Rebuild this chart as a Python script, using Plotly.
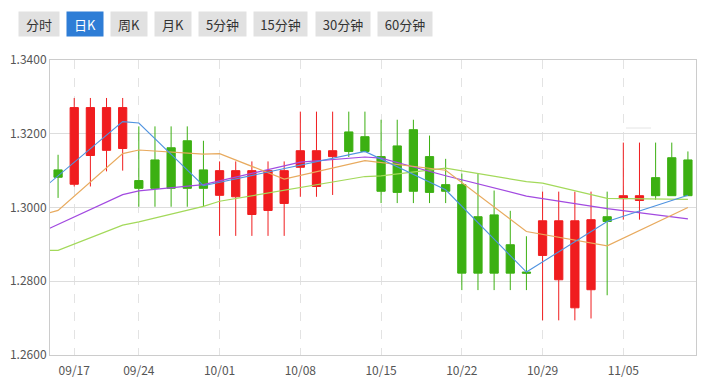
import plotly.graph_objects as go

# Trading days (first entry is an off-screen day used only by the MA lines)
dates = ["09/13", "09/14", "09/17", "09/18", "09/19", "09/20", "09/24", "09/25", "09/26", "09/27",
         "09/28", "10/01", "10/02", "10/03", "10/04", "10/05", "10/08", "10/09", "10/10", "10/11",
         "10/12", "10/15", "10/16", "10/17", "10/18", "10/19", "10/22", "10/23", "10/24", "10/25",
         "10/26", "10/29", "10/30", "10/31", "11/01", "11/02", "11/05", "11/06", "11/07", "11/08",
         "11/09"]

open_ = [None, 1.3102, 1.3063, 1.3141, 1.3155, 1.3160, 1.3073, 1.3129, 1.3162, 1.3181,
         1.3102, 1.3033, 1.3029, 1.2981, 1.2992, 1.3011, 1.3109, 1.3057, 1.3138, 1.3205,
         1.3192, 1.3138, 1.3167, 1.3211, 1.3138, 1.3062, 1.3062, 1.2975, 1.2980, 1.2899,
         1.2825, 1.2870, 1.2804, 1.2728, 1.2777, 1.2975, 1.3024, 1.3019, 1.3081, 1.3135,
         1.3129]
high = [None, 1.3143, 1.3297, 1.3297, 1.3297, 1.3297, 1.3220, 1.3220, 1.3220, 1.3220,
        1.3181, 1.3125, 1.3125, 1.3125, 1.3125, 1.3125, 1.3260, 1.3260, 1.3260, 1.3260,
        1.3260, 1.3238, 1.3238, 1.3238, 1.3195, 1.3132, 1.3092, 1.3092, 1.3046, 1.2991,
        1.2922, 1.3043, 1.3043, 1.3043, 1.3043, 1.3043, 1.3176, 1.3176, 1.3176, 1.3176,
        1.3152]
low = [None, 1.3026, 1.3057, 1.3057, 1.3098, 1.3100, 1.3002, 1.3002, 1.3002, 1.3002,
       1.3002, 1.2923, 1.2923, 1.2923, 1.2923, 1.2923, 1.3029, 1.3029, 1.3034, 1.3137,
       1.3150, 1.3012, 1.3012, 1.3012, 1.3012, 1.3012, 1.2776, 1.2776, 1.2776, 1.2776,
       1.2776, 1.2694, 1.2694, 1.2694, 1.2699, 1.2762, 1.2967, 1.2967, 1.3021, 1.3032,
       1.3032]
close = [None, 1.3082, 1.3271, 1.3271, 1.3271, 1.3271, 1.3052, 1.3052, 1.3052, 1.3052,
         1.3052, 1.3100, 1.3100, 1.3100, 1.3100, 1.3100, 1.3154, 1.3154, 1.3154, 1.3152,
         1.3152, 1.3044, 1.3041, 1.3044, 1.3041, 1.3044, 1.2822, 1.2822, 1.2822, 1.2822,
         1.2822, 1.2964, 1.2964, 1.2964, 1.2967, 1.2962, 1.3032, 1.3032, 1.3032, 1.3032,
         1.3032]

N = None
ma_blue = [1.3049, N, N, N, N, 1.3233, 1.3229, N, N, N,
           1.3059, N, N, N, N, N, N, N, N, N,
           1.3152, N, N, N, N, 1.3048, N, N, N, N,
           1.2825, N, N, N, N, 1.2962, N, N, N, N,
           1.3033]
ma_orange = [1.2980, 1.2992, N, N, N, 1.3146, 1.3156, N, N, N,
             1.3145, 1.3146, N, N, N, 1.3077, N, N, N, N,
             1.3127, N, N, N, N, 1.3101, N, N, N, N,
             1.2935, N, N, N, N, 1.2896, N, N, N, N,
             1.3000]
ma_purple = [1.2934, N, N, N, N, 1.3035, 1.3045, N, N, N,
             1.3062, N, N, N, N, N, 1.3123, N, N, N,
             1.3137, 1.3134, N, N, N, 1.3086, N, N, N, N,
             1.3031, N, N, N, N, 1.2997, N, N, N, N,
             1.2969]
ma_green = [1.2884, 1.2884, N, N, N, 1.2952, 1.2961, N, N, N,
            1.3003, 1.3017, N, N, N, N, N, N, N, N,
            1.3084, 1.3086, N, N, N, 1.3107, N, N, N, N,
            1.3070, 1.3066, N, N, N, 1.3025, N, N, N, N,
            1.3022]

tick_dates = ["09/17", "09/24", "10/01", "10/08", "10/15", "10/22", "10/29", "11/05"]
y_ticks = [1.26, 1.28, 1.30, 1.32, 1.34]

buttons = ["分时", "日K", "周K", "月K", "5分钟", "15分钟", "30分钟", "60分钟"]
active_button = "日K"

RED = "#f01d1f"
GREEN = "#3cb012"
FONT = "Noto Sans CJK SC"

fig = go.Figure()
fig.add_trace(go.Candlestick(
    x=dates, open=open_, high=high, low=low, close=close,
    increasing=dict(line=dict(color=RED, width=1), fillcolor=RED),
    decreasing=dict(line=dict(color=GREEN, width=1), fillcolor=GREEN),
    whiskerwidth=0, showlegend=False, hoverinfo="skip",
))
for vals, col, w in [(ma_green, "#a3d95a", 1.2), (ma_purple, "#a24ae0", 1.2),
                     (ma_orange, "#e8aa5e", 1.2), (ma_blue, "#4f93e0", 1.1)]:
    fig.add_trace(go.Scatter(x=dates, y=vals, mode="lines", connectgaps=True,
                             line=dict(color=col, width=w), showlegend=False,
                             hoverinfo="skip"))

# top button bar (pixel-based layout converted to paper coordinates)
L, R, T, B = 50, 6, 60, 25
W, H = 702, 380
pw, ph = W - L - R, H - T - B
btn_left = [18, 66, 110, 154, 198, 253, 315, 377]
btn_w = [40, 36, 36, 36, 47, 53, 54, 54]
annotations = []
for name, bx, bw in zip(buttons, btn_left, btn_w):
    active = name == active_button
    annotations.append(dict(
        text=name, xref="paper", yref="paper",
        x=(bx - L) / pw, y=(H - B - 11) / ph, xanchor="left", yanchor="top",
        width=bw, height=24, borderpad=0, showarrow=False, align="center", valign="middle",
        bgcolor="#2e7dd6" if active else "#e1e1e1",
        font=dict(family=FONT, size=13, color="#ffffff" if active else "#333333"),
    ))

fig.update_layout(
    width=W, height=H,
    margin=dict(l=L, r=R, t=T, b=B, autoexpand=False),
    paper_bgcolor="white", plot_bgcolor="white",
    boxgap=0.27, boxgroupgap=0.3,
    annotations=annotations,
    shapes=[dict(type="line", xref="paper", yref="paper",
                 x0=(626 - L) / pw, x1=(651 - L) / pw,
                 y0=(H - B - 128) / ph, y1=(H - B - 128) / ph,
                 line=dict(color="#e4e4e4", width=1))],
    font=dict(family=FONT, size=12, color="#555555"),
)
fig.update_xaxes(
    type="category", range=[0.5, len(dates) - 0.5], automargin=False,
    tickvals=tick_dates, ticktext=tick_dates, ticklabelstandoff=5,
    showgrid=True, gridcolor="#e3e3e3", griddash="dash", gridwidth=1,
    showline=True, linecolor="#cccccc", linewidth=1, mirror=True,
    ticks="", rangeslider=dict(visible=False),
    tickfont=dict(family=FONT, size=12, color="#555555"),
)
fig.update_yaxes(
    range=[1.26, 1.34], tickvals=y_ticks, tickformat=".4f", automargin=False,
    showgrid=True, gridcolor="#dddddd", gridwidth=1, zeroline=False,
    showline=True, linecolor="#cccccc", linewidth=1, mirror=True,
    ticks="", tickfont=dict(family=FONT, size=12, color="#555555"),
)
fig.write_html("out.html", config={"displayModeBar": False},
               post_script="document.body.style.margin='0';document.body.style.overflow='hidden';")
